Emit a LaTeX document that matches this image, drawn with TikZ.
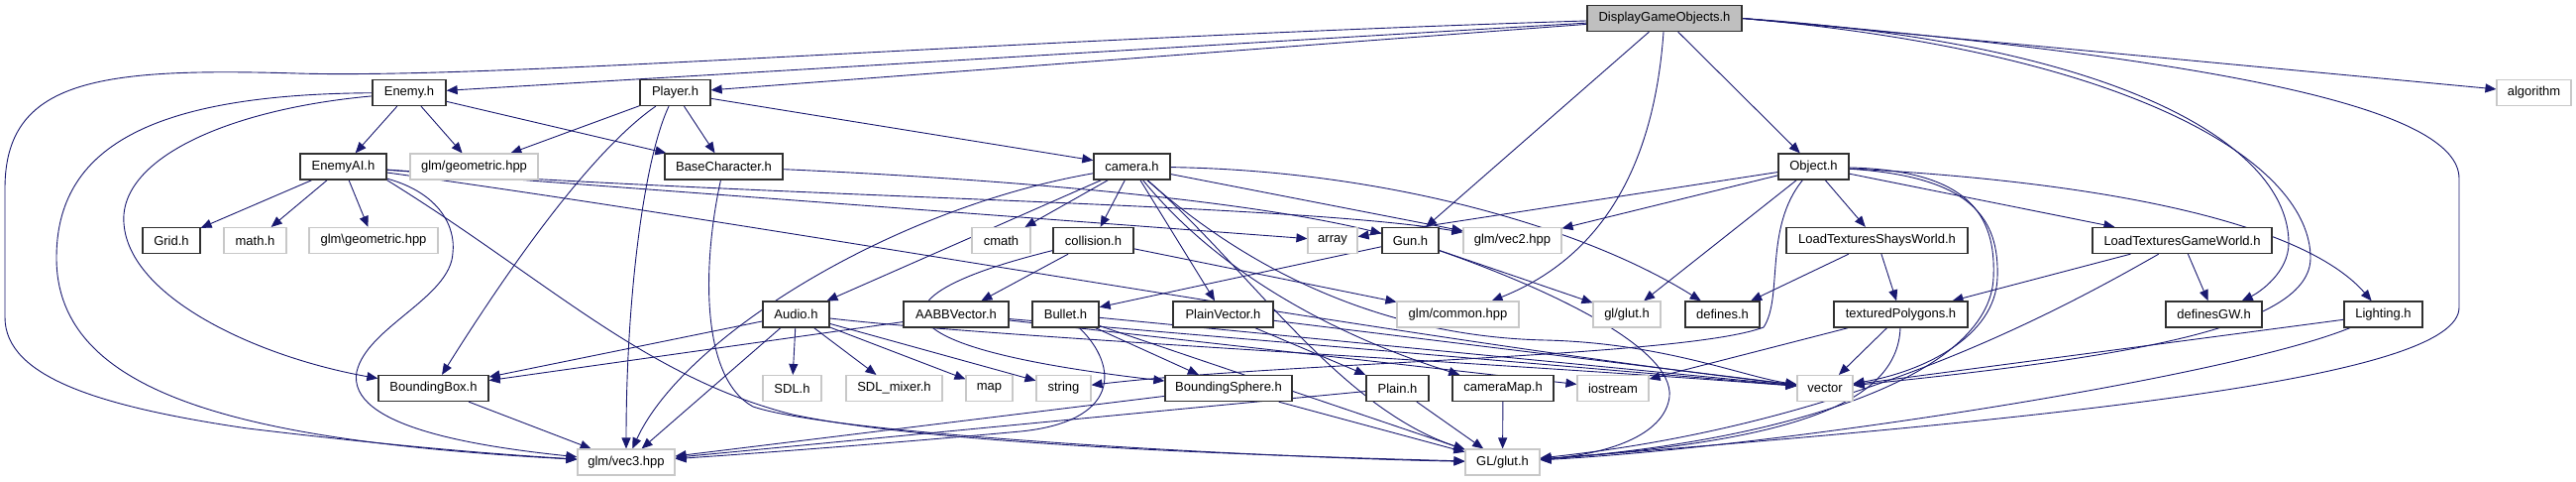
\documentclass[tikz,border=0pt]{standalone}
\usepackage{fontspec}
\setmainfont{Liberation Sans}
\usetikzlibrary{arrows.meta}
\definecolor{edgec}{HTML}{191970}
\definecolor{extc}{HTML}{C8C8C8}
\definecolor{docc}{HTML}{303030}
\definecolor{rootc}{HTML}{BFBFBF}
\pgfdeclarelayer{bg}
\pgfsetlayers{bg,main}
\newcommand\mknode[6]{\node[#6, minimum width=#4pt] (#1) at (#2,#3) {#5};}
\begin{document}
\begin{tikzpicture}[x=1pt,y=-1pt,
  font=\fontsize{13}{15}\selectfont,
  box/.style={minimum height=26pt, inner sep=0pt, fill=white},
  doc/.style={box, draw=docc, line width=1.3pt},
  ext/.style={box, draw=extc, line width=1.1pt},
  root/.style={box, draw=docc, line width=1.3pt, fill=rootc},
  e/.style={draw=edgec, line width=0.9pt, -{Triangle[length=11pt,width=9pt]}, edgec}]
\useasboundingbox (0,0) rectangle (2600,485);
% nodes
\mknode{DGO}{1680}{18.5}{156}{DisplayGameObjects.h}{root}
\mknode{Enemy}{413}{93.5}{74}{Enemy.h}{doc}
\mknode{Player}{681.5}{93.5}{71}{Player.h}{doc}
\mknode{algorithm}{2557.5}{93.5}{75}{algorithm}{ext}
\mknode{EnemyAI}{346.5}{168}{87}{EnemyAI.h}{doc}
\mknode{glmgeo}{478.5}{168}{129}{glm/geometric.hpp}{ext}
\mknode{BaseChar}{730.5}{168}{119}{BaseCharacter.h}{doc}
\mknode{camera}{1142.5}{168}{77}{camera.h}{doc}
\mknode{Object}{1830.5}{168}{71}{Object.h}{doc}
\mknode{Grid}{173}{242.5}{58}{Grid.h}{doc}
\mknode{mathh}{257.5}{242.5}{63}{math.h}{ext}
\mknode{glmgeoB}{377}{242.5}{130}{glm\textbackslash geometric.hpp}{ext}
\mknode{cmath}{1010.5}{242.5}{59}{cmath}{ext}
\mknode{collision}{1103.5}{242.5}{81}{collision.h}{doc}
\mknode{array}{1345}{242.5}{50}{array}{ext}
\mknode{Gun}{1423.5}{242.5}{57}{Gun.h}{doc}
\mknode{vecB}{1526.5}{242.5}{99}{glm/vec2.hpp}{ext}
\mknode{LTSW}{1894.5}{242.5}{183}{LoadTexturesShaysWorld.h}{doc}
\mknode{LTGW}{2202.5}{242.5}{181}{LoadTexturesGameWorld.h}{doc}
\mknode{Audio}{803.5}{317}{67}{Audio.h}{doc}
\mknode{AABB}{965}{317}{106}{AABBVector.h}{doc}
\mknode{Bullet}{1075.5}{317}{67}{Bullet.h}{doc}
\mknode{PlainVector}{1234.5}{317}{101}{PlainVector.h}{doc}
\mknode{common}{1471.5}{317}{123}{glm/common.hpp}{ext}
\mknode{glglut}{1642}{317}{68}{gl/glut.h}{ext}
\mknode{defines}{1738.5}{317}{75}{defines.h}{doc}
\mknode{texPoly}{1918.5}{317}{135}{texturedPolygons.h}{doc}
\mknode{definesGW}{2234.5}{317}{97}{definesGW.h}{doc}
\mknode{Lighting}{2405.5}{317}{79}{Lighting.h}{doc}
\mknode{BBox}{437.5}{391.5}{111}{BoundingBox.h}{doc}
\mknode{SDL}{799.5}{391.5}{59}{SDL.h}{ext}
\mknode{SDLmixer}{902.5}{391.5}{97}{SDL\_mixer.h}{ext}
\mknode{map}{998.5}{391.5}{47}{map}{ext}
\mknode{string}{1073.5}{391.5}{55}{string}{ext}
\mknode{BSphere}{1240}{391.5}{128}{BoundingSphere.h}{doc}
\mknode{Plain}{1410.5}{391.5}{63}{Plain.h}{doc}
\mknode{cameraMap}{1517}{391.5}{102}{cameraMap.h}{doc}
\mknode{iostream}{1628}{391.5}{72}{iostream}{ext}
\mknode{vector}{1842}{391.5}{56}{vector}{ext}
\mknode{vecC}{632}{466}{98}{glm/vec3.hpp}{ext}
\mknode{GLglut}{1516.5}{466}{75}{GL/glut.h}{ext}
\begin{pgfonlayer}{bg}
\fill[white] (0,0) rectangle (2600,485);
% DisplayGameObjects.h
\draw[e] (DGO) -- (Enemy);
\draw[e] (DGO) -- (Player);
\draw[e] (DGO) -- (Gun);
\draw[e] (DGO) -- (Object);
\draw[e] (DGO.east) -- (algorithm);
\draw[e] (DGO) .. controls (1672,130) and (1640,250) .. (common);
\draw[e] (DGO) .. controls (1000,40) and (500,80) .. (300,74) .. controls (100,68) and (5,80) .. (5,190) -- (5,320) .. controls (5,380) and (100,410) .. (250,432) .. controls (400,450) and (500,458) .. (vecC);
\draw[e] (DGO.east) .. controls (2150,45) and (2310,150) .. (2310,245) .. controls (2310,275) and (2280,295) .. (definesGW);
\draw[e] (DGO.east) .. controls (2170,55) and (2332,170) .. (2332,260) .. controls (2332,330) and (2150,360) .. (vector);
\draw[e] (DGO.east) .. controls (2250,60) and (2482,110) .. (2482,180) -- (2482,310) .. controls (2482,380) and (2100,420) .. (GLglut);
% Enemy.h
\draw[e] (Enemy) -- (EnemyAI);
\draw[e] (Enemy) -- (glmgeo);
\draw[e] (Enemy) -- (BaseChar);
\draw[e] (Enemy) .. controls (150,95) and (57,150) .. (57,260) .. controls (57,400) and (250,445) .. (vecC);
\draw[e] (Enemy) .. controls (230,110) and (120,160) .. (125,225) .. controls (130,300) and (260,360) .. (BBox);
% Player.h
\draw[e] (Player) -- (glmgeo);
\draw[e] (Player) -- (BaseChar);
\draw[e] (Player) -- (camera);
\draw[e] (Player) .. controls (600,150) and (520,260) .. (BBox);
\draw[e] (Player) .. controls (650,160) and (632,300) .. (vecC);
% EnemyAI.h
\draw[e] (EnemyAI) -- (Grid);
\draw[e] (EnemyAI) -- (mathh);
\draw[e] (EnemyAI) -- (glmgeoB);
\draw[e] (EnemyAI) -- (array);
\draw[e] (EnemyAI) .. controls (800,200) and (1300,205) .. (vecB);
\draw[e] (EnemyAI) .. controls (800,230) and (1400,340) .. (vector);
\draw[e] (EnemyAI.south east) .. controls (550,280) and (650,380) .. (800,418) .. controls (950,450) and (1300,460) .. (GLglut);
\draw[e] (EnemyAI) .. controls (445,195) and (460,230) .. (457,255) .. controls (455,300) and (370,330) .. (360,375) .. controls (350,430) and (480,450) .. (vecC);
% BaseCharacter.h
\draw[e] (BaseChar) .. controls (1000,180) and (1250,200) .. (Gun);
\draw[e] (BaseChar) .. controls (710,260) and (705,380) .. (760,410) .. controls (850,440) and (1300,462) .. (GLglut);
% camera.h
\draw[e] (camera) -- (cmath);
\draw[e] (camera) -- (collision);
\draw[e] (camera) -- (PlainVector);
\draw[e] (camera) -- (Audio);
\draw[e] (camera) -- (vecB);
\draw[e] (camera) .. controls (900,210) and (690,340) .. (vecC);
\draw[e] (camera) .. controls (1250,300) and (1400,355) .. (cameraMap);
\draw[e] (camera) .. controls (1260,270) and (1350,410) .. (GLglut);
\draw[e] (camera) .. controls (1400,172) and (1600,230) .. (defines);
\draw[e] (camera) .. controls (1280,290) and (1420,340) .. (1560,343) .. controls (1680,346) and (1760,380) .. (vector);
% collision.h
\draw[e] (collision) -- (AABB);
\draw[e] (collision) -- (common);
\draw[e] (collision) .. controls (870,300) and (880,350) .. (BSphere);
% Audio.h
\draw[e] (Audio) -- (SDL);
\draw[e] (Audio) -- (SDLmixer);
\draw[e] (Audio) -- (map);
\draw[e] (Audio) -- (string);
\draw[e] (Audio) -- (BBox);
\draw[e] (Audio) -- (vecC);
\draw[e] (Audio) .. controls (1000,340) and (1500,365) .. (vector);
% AABBVector.h
\draw[e] (AABB) -- (BBox);
\draw[e] (AABB) -- (iostream);
\draw[e] (AABB) -- (vector);
% Bullet.h
\draw[e] (Bullet) -- (BSphere);
\draw[e] (Bullet) -- (GLglut);
\draw[e] (Bullet) -- (vector);
\draw[e] (Bullet) .. controls (1130,370) and (1130,425) .. (1030,435) .. controls (900,447) and (750,458) .. (vecC);
% Gun.h
\draw[e] (Gun) -- (Bullet);
\draw[e] (Gun) -- (glglut);
\draw[e] (Gun) .. controls (1560,290) and (1690,350) .. (1685,400) .. controls (1680,440) and (1620,458) .. (GLglut);
% PlainVector.h
\draw[e] (PlainVector) -- (Plain);
\draw[e] (PlainVector) -- (vector);
% lower nodes
\draw[e] (BSphere) -- (vecC);
\draw[e] (BSphere) -- (GLglut);
\draw[e] (Plain) -- (vecC);
\draw[e] (Plain) -- (GLglut);
\draw[e] (cameraMap) -- (GLglut);
\draw[e] (BBox) -- (vecC);
% Object.h
\draw[e] (Object) -- (array);
\draw[e] (Object) -- (vecB);
\draw[e] (Object) -- (glglut);
\draw[e] (Object) -- (LTSW);
\draw[e] (Object) -- (LTGW);
\draw[e] (Object) .. controls (2150,185) and (2330,230) .. (Lighting);
\draw[e] (Object) .. controls (1780,230) and (1800,300) .. (1780,330) .. controls (1700,360) and (1300,365) .. (string);
\draw[e] (Object) .. controls (1990,178) and (2018,220) .. (2016,280) .. controls (2014,340) and (1940,375) .. (vector);
\draw[e] (Object) .. controls (1985,172) and (2015,215) .. (2012,280) .. controls (2008,380) and (1800,445) .. (GLglut);
% LoadTextures
\draw[e] (LTSW) -- (defines);
\draw[e] (LTSW) -- (texPoly);
\draw[e] (LTGW) -- (texPoly);
\draw[e] (LTGW) -- (definesGW);
\draw[e] (LTGW) .. controls (2050,330) and (1850,430) .. (GLglut);
% texturedPolygons.h
\draw[e] (texPoly) -- (vector);
\draw[e] (texPoly) -- (iostream);
\draw[e] (texPoly) .. controls (1915,410) and (1800,445) .. (GLglut);
% Lighting.h
\draw[e] (Lighting) -- (vector);
\draw[e] (Lighting) .. controls (2250,380) and (1800,450) .. (GLglut);
\end{pgfonlayer}
\end{tikzpicture}
\end{document}
